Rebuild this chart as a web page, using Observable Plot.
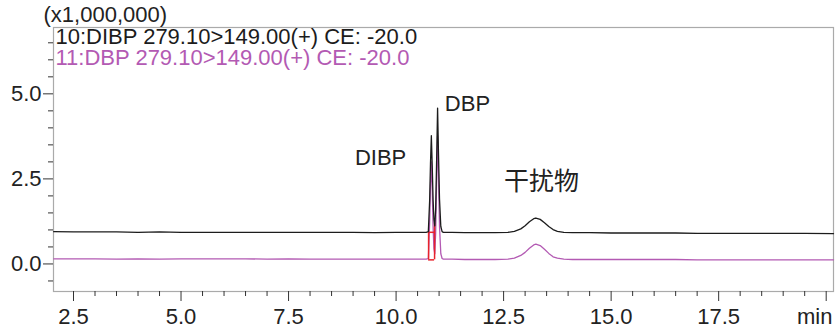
<!DOCTYPE html>
<html>
<head>
<meta charset="utf-8">
<script src="https://cdn.jsdelivr.net/npm/d3@7"></script>
<script src="https://cdn.jsdelivr.net/npm/@observablehq/plot@0.6"></script>
<style>
  html, body { margin: 0; padding: 0; background: #fff; }
  #chart { width: 835px; height: 330px; overflow: hidden; }
</style>
</head>
<body>
<div id="chart"></div>
<script>
// Retention time (min)
const times = [2.04, 2.5, 3.0, 3.5, 4.0, 4.5, 5.0, 5.5, 6.0, 6.5, 7.0, 7.5, 8.0, 8.5, 9.0, 9.5, 10.0, 10.4, 10.7, 10.75,
  10.78, 10.80, 10.82, 10.84, 10.86, 10.88, 10.90, 10.92, 10.945, 10.965, 10.985, 11.01, 11.04, 11.07, 11.1, 11.3, 11.6,
  12.0, 12.3, 12.6, 12.75, 12.9, 13.0, 13.1, 13.2, 13.25, 13.35, 13.45, 13.55, 13.65, 13.75, 13.9, 14.1, 14.5, 15.0, 15.5,
  16.0, 16.5, 17.0, 17.5, 18.0, 18.5, 19.0, 19.5, 20.17];
// Channel 10 (DIBP 279.10>149.00) intensity, x1,000,000
const ch10 = [0.95, 0.94, 0.94, 0.94, 0.93, 0.94, 0.93, 0.93, 0.93, 0.93, 0.93, 0.93, 0.93, 0.93, 0.93, 0.92, 0.93, 0.93, 0.93, 0.95,
  1.85, 2.95, 3.77, 2.90, 1.90, 1.30, 1.12, 1.60, 3.20, 4.58, 3.30, 1.90, 1.10, 0.95, 0.93, 0.93, 0.92,
  0.92, 0.92, 0.93, 0.96, 1.03, 1.12, 1.24, 1.33, 1.35, 1.31, 1.21, 1.10, 1.01, 0.96, 0.93, 0.92, 0.92, 0.91, 0.91,
  0.91, 0.91, 0.90, 0.90, 0.90, 0.90, 0.90, 0.90, 0.89];
// Channel 11 (DBP 279.10>149.00) intensity, x1,000,000
const ch11 = [0.15, 0.15, 0.15, 0.14, 0.15, 0.14, 0.15, 0.15, 0.15, 0.15, 0.14, 0.15, 0.14, 0.14, 0.14, 0.14, 0.14, 0.14, 0.14, 0.16,
  1.20, 2.30, 3.00, 2.20, 1.10, 0.45, 0.30, 0.90, 2.60, 3.77, 2.60, 1.10, 0.30, 0.16, 0.14, 0.14, 0.13,
  0.13, 0.13, 0.14, 0.17, 0.25, 0.34, 0.46, 0.56, 0.58, 0.54, 0.43, 0.31, 0.21, 0.17, 0.14, 0.13, 0.13, 0.13, 0.13,
  0.13, 0.13, 0.12, 0.12, 0.12, 0.12, 0.12, 0.12, 0.12];

// Integration markers (red)
const markTimes = [10.756, 10.895];
const markTops = [0.93, 1.2];
const markBase = 0.12;
const markUpper = 0.93;

// Peak annotations
const peakLabels = ["DIBP", "DBP", "干扰物"];
const peakLabelX = [9.64, 11.66, 13.38];
const peakLabelY = [3.12, 4.71, 2.42];

// Legend / unit texts
const unitLabel = "(x1,000,000)";
const legendLabels = ["10:DIBP 279.10>149.00(+) CE: -20.0", "11:DBP 279.10>149.00(+) CE: -20.0"];
const seriesColors = ["#1c1c1c", "#b35ab3"];

// Ticks
const xMajorTicks = [2.5, 5.0, 7.5, 10.0, 12.5, 15.0, 17.5, 20.0];
const xMinorTicks = [3.0, 3.5, 4.0, 4.5, 5.5, 6.0, 6.5, 7.0, 8.0, 8.5, 9.0, 9.5, 10.5, 11.0, 11.5, 12.0,
  13.0, 13.5, 14.0, 14.5, 15.5, 16.0, 16.5, 17.0, 18.0, 18.5, 19.0, 19.5];
const yMajorTicks = [0.0, 2.5, 5.0];
const yMinorTicks = [-0.5, 0.5, 1.0, 1.5, 2.0, 3.0, 3.5, 4.0, 4.5, 5.5, 6.0, 6.5];
const xUnit = "min";

const trace10 = times.map((t, i) => ({t, v: ch10[i]}));
const trace11 = times.map((t, i) => ({t, v: ch11[i]}));
const vMarks = markTimes.map((t, i) => ({t, y1: markBase, y2: markTops[i]}));
const hMarks = [{x1: markTimes[0], x2: markTimes[1], y: markBase}, {x1: markTimes[0], x2: markTimes[1], y: markUpper}];
const annos = peakLabels.map((s, i) => ({s, x: peakLabelX[i], y: peakLabelY[i]}));

const chart = Plot.plot({
  width: 835,
  height: 330,
  marginLeft: 53,
  marginRight: 2,
  marginTop: 27,
  marginBottom: 39,
  style: {fontFamily: "'Liberation Sans', Arial, sans-serif", background: "#fff", color: "#222", overflow: "visible"},
  x: {domain: [2.035, 20.17], label: null},
  y: {domain: [-0.81, 6.95], label: null},
  marks: [
    Plot.frame({stroke: "#aaa", strokeWidth: 1.2}),
    Plot.axisX({ticks: xMajorTicks, tickSize: 10, tickPadding: 7, fontSize: 22, stroke: "#333",
      tickFormat: d => d === 20 ? "" : d.toFixed(1), label: null, ariaLabel: "xmajor"}),
    Plot.axisX({ticks: xMinorTicks, tickSize: 5, tickFormat: () => "", label: null, stroke: "#333"}),
    Plot.axisY({ticks: yMajorTicks, tickSize: 10, tickPadding: 2, fontSize: 22, stroke: "#333",
      tickFormat: d => d.toFixed(1), label: null}),
    Plot.axisY({ticks: yMinorTicks, tickSize: 5, tickFormat: () => "", label: null, stroke: "#333"}),
    Plot.line(trace11, {x: "t", y: "v", stroke: seriesColors[1], strokeWidth: 1.3}),
    Plot.ruleX(vMarks, {x: "t", y1: "y1", y2: "y2", stroke: "#e8232b", strokeWidth: 1.5}),
    Plot.ruleY(hMarks, {x1: "x1", x2: "x2", y: "y", stroke: "#e8232b", strokeWidth: 1.5}),
    Plot.line(trace10, {x: "t", y: "v", stroke: seriesColors[0], strokeWidth: 1.3}),
    Plot.text(annos, {x: "x", y: "y", text: "s", fontSize: d => d.s === "干扰物" ? 25 : 22,
      fill: "#222", lineAnchor: "middle",
      fontFamily: "'Liberation Sans', 'Noto Sans CJK SC', sans-serif"}),
    Plot.text([unitLabel], {text: d => d, frameAnchor: "top-left", dx: -10, dy: -21, lineAnchor: "top",
      textAnchor: "start", fontSize: 22, fill: "#222", ariaLabel: "legend"}),
    Plot.text([legendLabels[0]], {text: d => d, frameAnchor: "top-left", dx: 2, dy: 1, lineAnchor: "top",
      textAnchor: "start", fontSize: 22, fill: seriesColors[0], ariaLabel: "legend"}),
    Plot.text([legendLabels[1]], {text: d => d, frameAnchor: "top-left", dx: 2, dy: 22, lineAnchor: "top",
      textAnchor: "start", fontSize: 22, fill: seriesColors[1], ariaLabel: "legend"}),
    Plot.text([xUnit], {text: d => d, frameAnchor: "bottom-right", dx: -1, dy: 17, lineAnchor: "top",
      textAnchor: "end", fontSize: 22, fill: "#222", ariaLabel: "xunit"})
  ]
});

document.getElementById("chart").appendChild(chart);

// condense x tick labels and unit label horizontally
function condense(sel, s) {
  sel.each(function() {
    const el = d3.select(this);
    let tr = el.attr("transform") || "";
    const x = el.attr("x"), y = el.attr("y");
    if (x != null || y != null) {
      tr += ` translate(${x || 0},${y || 0})`;
      el.attr("x", null).attr("y", null);
    }
    el.attr("transform", tr + ` scale(${s},1)`);
  });
}
condense(d3.select(chart).selectAll('g[aria-label="xmajor"] text, g[aria-label="xmajor"] g text'), 0.82);
condense(d3.select(chart).selectAll('g[aria-label="xunit"] text'), 0.9);
</script>
</body>
</html>
